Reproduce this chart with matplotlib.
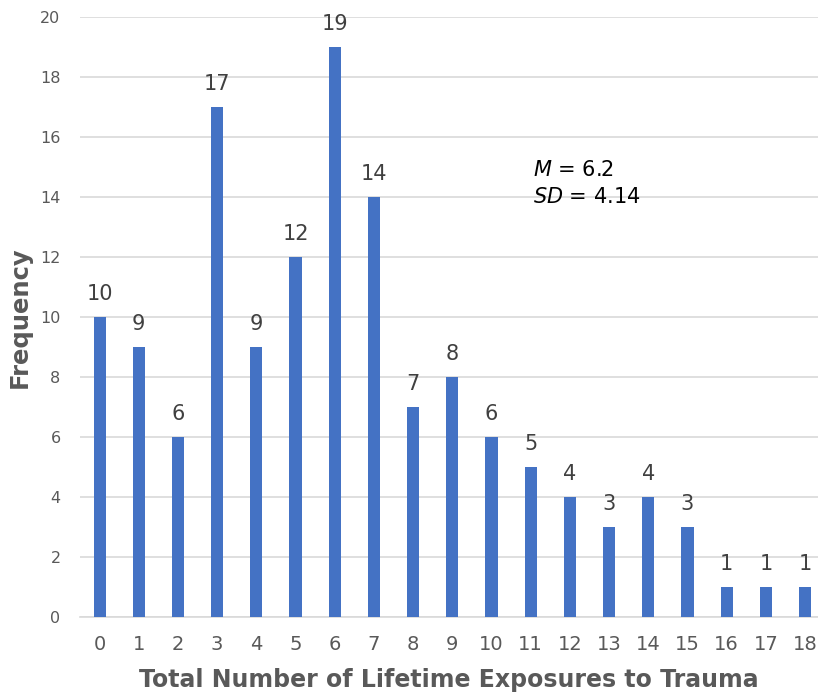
import numpy as np
import matplotlib.pyplot as plt

exposures = list(range(19))
frequency = [10, 9, 6, 17, 9, 12, 19, 14, 7, 8, 6, 5, 4, 3, 4, 3, 1, 1, 1]
y_ticks = list(range(0, 21, 2))

fig = plt.figure(figsize=(8.18, 6.96), dpi=100)
ax = fig.add_axes([80 / 818, 79 / 696, 738 / 818, 600 / 696])

bars = ax.bar(exposures, frequency, width=0.31, color='#4472C4', zorder=3)
for x, v in zip(exposures, frequency):
    ax.text(x, v + 0.45, str(v), ha='center', va='bottom', fontsize=15, color='#404040')

ax.set_xlim(-0.5, 18.33)
ax.set_ylim(0, 20)
ax.set_yticks(y_ticks)
ax.set_xticks(exposures)
ax.grid(axis='y', color='#d9d9d9', linewidth=1.2, zorder=0)
for s in ['top', 'right', 'left']:
    ax.spines[s].set_visible(False)
ax.spines['bottom'].set_color('#d9d9d9')
ax.spines['bottom'].set_linewidth(1.2)
ax.tick_params(axis='both', length=0, colors='#595959')
ax.tick_params(axis='y', labelsize=11.5, pad=14)
ax.tick_params(axis='x', labelsize=14, pad=13)

ax.set_xlabel('Total Number of Lifetime Exposures to Trauma', fontsize=17,
              fontweight='bold', color='#595959', va='center')
ax.set_ylabel('Frequency', fontsize=17.5, fontweight='bold', color='#595959', va='center')
ax.xaxis.set_label_coords(0.5, -63 / 600)
ax.yaxis.set_label_coords(-60 / 738, 0.5)

ax.text(11.05, 14.7, r'$\it{M}$ = 6.2', fontsize=15, color='black')
ax.text(11.05, 13.8, r'$\it{SD}$ = 4.14', fontsize=15, color='black')

fig.savefig('out.png', dpi=100)
